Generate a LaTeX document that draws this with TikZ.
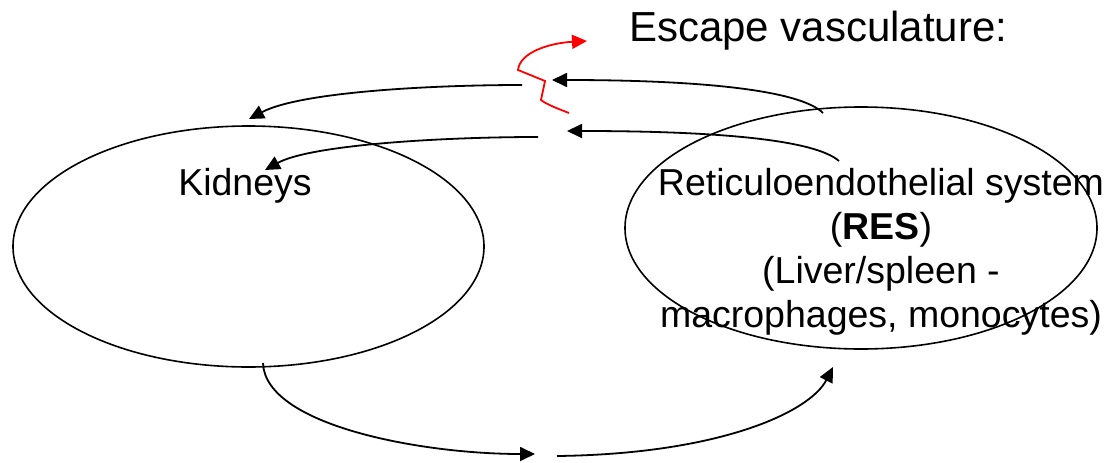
\documentclass[tikz,border=0pt]{standalone}
\usepackage{fontspec}
\setmainfont{Liberation Sans}
\usetikzlibrary{arrows.meta,shapes.geometric}
\begin{document}
\begin{tikzpicture}[x=1pt,y=-1pt,
  organ/.style={draw=black, line width=1.6pt, ellipse, inner sep=0pt},
  flow/.style={draw=black, line width=1.8pt, -{Triangle[length=15pt,width=14pt]}},
  escape/.style={draw=red, line width=1.8pt, -{Triangle[length=15pt,width=14pt]}},
  lbl/.style={font=\fontsize{37.5}{44}\selectfont, inner sep=0pt}]
\useasboundingbox (0,0) rectangle (1108,463);
% organs
\node[organ, minimum width=471pt, minimum height=241pt] (kid) at (248.5,246.5) {};
\node[organ, minimum width=472pt, minimum height=242pt] (res) at (861,228) {};
% texts
\node[lbl, anchor=base] (kidtxt) at (245,195) {Kidneys};
\node[lbl, anchor=base, align=center] (restxt) at (881,327)
  {Reticuloendothelial system\\(\textbf{RES})\\(Liver/spleen -\\macrophages, monocytes)};
\node[inner sep=0pt, anchor=base west, font=\fontsize{42}{48}\selectfont] (esc) at (629,41) {Escape vasculature:};
% connector end points
\coordinate (a0) at (823,113);
\coordinate (a1) at (552,80);
\coordinate (b0) at (839,161);
\coordinate (b1) at (567,131);
\coordinate (c0) at (522,85);
\coordinate (c1) at (249,119);
\coordinate (d0) at (538,137);
\coordinate (d1) at (265,170);
\coordinate (e0) at (263,363);
\coordinate (e1) at (535,454);
\coordinate (f0) at (557,456);
\coordinate (f1) at (833,367);
\coordinate (r0) at (569,113);
\coordinate (r1) at (587,41);
% arrows
\draw[flow] (a0) .. controls (800,90) and (700,80) .. (a1);
\draw[flow] (b0) .. controls (815,140) and (720,131) .. (b1);
\draw[flow] (c0) .. controls (430,85) and (300,92) .. (c1);
\draw[flow] (d0) .. controls (440,137) and (310,145) .. (d1);
\draw[flow] (e0) .. controls (265,425) and (420,454) .. (e1);
\draw[flow] (f0) .. controls (720,454) and (810,412) .. (f1);
% red escape squiggle
\draw[escape, line join=miter] (r0) .. controls (556,108) and (546,104) .. (541,100) -- (545,81) -- (518,70) .. controls (520,52) and (550,43) .. (r1);
\end{tikzpicture}
\end{document}
